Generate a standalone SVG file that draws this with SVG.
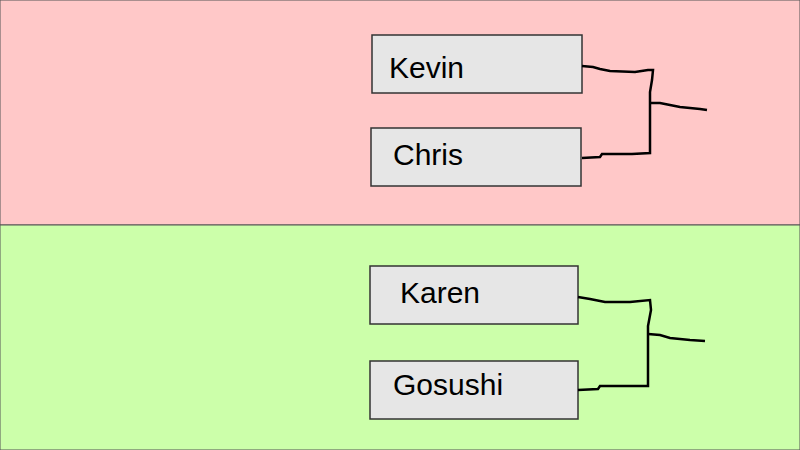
<svg xmlns="http://www.w3.org/2000/svg" width="800" height="450" viewBox="0 0 800 450">
<style>
.box{fill:#e6e6e6;stroke:#333;stroke-width:1.5}
.t{font-family:"Liberation Sans",Arial,sans-serif;font-size:30px;fill:#000}
.c{fill:none;stroke:#000;stroke-width:2.5}
</style>
<rect x="0" y="0" width="800" height="225" fill="#ffc8c8" stroke="#555" stroke-width="1"/>
<rect x="0" y="225" width="800" height="225" fill="#ccffaa" stroke="#555" stroke-width="1"/>
<g id="kevin"><rect class="box" x="372" y="35" width="210" height="58"/><text class="t" x="389" y="78">Kevin</text></g>
<g id="chris"><rect class="box" x="371" y="128" width="210" height="58"/><text class="t" x="393" y="165">Chris</text></g>
<g id="karen"><rect class="box" x="370" y="266" width="208" height="58"/><text class="t" x="400" y="303">Karen</text></g>
<g id="gosushi"><rect class="box" x="370" y="361" width="208" height="58"/><text class="t" x="393" y="395">Gosushi</text></g>
<g id="connectors">
<path class="c" d="M582 66 L593 67 L600 69 L610 71 L635 72 L648 70 L653 70 L652 80 L650 92 L650 153 L632 154 L602 154 L600 157 L582 158"/>
<path class="c" d="M650 103 L660 103 L670 105 L680 107 L700 109 L707 110"/>
<path class="c" d="M578 297 L590 299 L605 302 L630 302 L650 300 L651 310 L648 326 L648 386 L630 386 L600 386 L598 389 L578 390"/>
<path class="c" d="M648 334 L660 335 L670 338 L690 340 L705 341"/>
</g>
</svg>
